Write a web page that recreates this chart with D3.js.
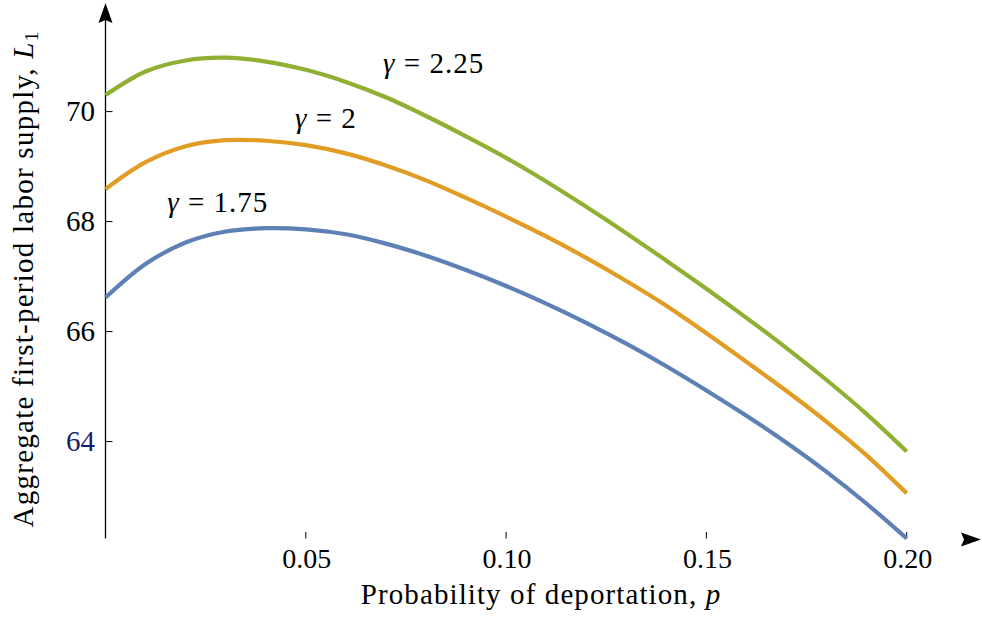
<!DOCTYPE html>
<html>
<head>
<meta charset="utf-8">
<script src="https://cdn.jsdelivr.net/npm/d3@7"></script>
<style>
  body { margin: 0; background: #fff; }
  svg { display: block; font-family: "Liberation Serif", "Times New Roman", serif; }
</style>
</head>
<body>
<div id="chart"></div>
<script>
// deportation probability p, sampled every 0.01
const pValues = d3.range(0, 21).map(i => i / 100);

// aggregate first-period labor supply L1
const gamma175 = [66.62,67.23,67.62,67.82,67.88,67.86,67.77,67.60,67.38,67.12,66.83,66.51,66.16,65.78,65.37,64.93,64.47,63.98,63.45,62.87,62.24];
const gamma200 = [68.59,69.08,69.37,69.48,69.47,69.39,69.24,69.02,68.75,68.43,68.09,67.73,67.34,66.92,66.47,65.97,65.45,64.92,64.36,63.75,63.06];
const gamma225 = [70.30,70.73,70.93,70.98,70.91,70.76,70.54,70.26,69.92,69.55,69.16,68.73,68.27,67.79,67.29,66.78,66.25,65.70,65.12,64.50,63.82];

const seriesNames = ["1.75", "2", "2.25"];
const seriesColors = ["#5e81b5", "#e19c24", "#8fb032"];

const xTicks = [0.05, 0.10, 0.15, 0.20];
const yTicks = [64, 66, 68, 70];

// label anchors in data units (p, L1)
const labelP = [0.0154, 0.0473, 0.0693];
const labelL = [68.17, 69.70, 70.70];

const width = 982, height = 625;

const svg = d3.select("#chart")
  .append("svg")
  .attr("width", width)
  .attr("height", height);

const x = d3.scaleLinear().domain([0, 0.2]).range([105.5, 906.7]);
const y = d3.scaleLinear().domain([64, 70]).range([441.6, 111.6]);

const originY = 538.5;
const axisColor = "#000";

// y axis line + arrow
svg.append("line")
  .attr("x1", x(0)).attr("x2", x(0))
  .attr("y1", 20).attr("y2", originY)
  .attr("stroke", axisColor)
  .attr("stroke-width", 1.3);

svg.append("path")
  .attr("d", `M${x(0)},3 L${x(0) + 7},23 L${x(0)},20 L${x(0) - 7},23 Z`)
  .attr("fill", axisColor);

// x axis arrow (no base line in the original)
svg.append("path")
  .attr("d", `M981,539.5 L961,532.5 L964,539.5 L961,546.5 Z`)
  .attr("fill", axisColor);

// y ticks and labels
const yAxis = svg.append("g").attr("class", "axis y-axis");
yAxis.selectAll("line")
  .data(yTicks)
  .join("line")
  .attr("x1", x(0)).attr("x2", x(0) + 7)
  .attr("y1", d => y(d)).attr("y2", d => y(d))
  .attr("stroke", axisColor)
  .attr("stroke-width", 1);

yAxis.selectAll("text")
  .data(yTicks)
  .join("text")
  .attr("x", 95)
  .attr("y", d => y(d))
  .attr("dy", "0.34em")
  .attr("text-anchor", "end")
  .attr("font-size", 29)
  .attr("fill", d => d === 64 ? "#1a1a6e" : "#000")
  .text(d => d);

// x ticks and labels
const xAxis = svg.append("g").attr("class", "axis x-axis");
xAxis.selectAll("line")
  .data(xTicks)
  .join("line")
  .attr("x1", d => x(d)).attr("x2", d => x(d))
  .attr("y1", originY - 6.5).attr("y2", originY)
  .attr("stroke", axisColor)
  .attr("stroke-width", 1);

xAxis.selectAll("text")
  .data(xTicks)
  .join("text")
  .attr("x", d => x(d) + 1)
  .attr("y", 568)
  .attr("text-anchor", "middle")
  .attr("font-size", 28)
  .attr("fill", "#000")
  .text(d => d.toFixed(2));

// axis titles
svg.append("text")
  .attr("x", 541)
  .attr("y", 604)
  .attr("text-anchor", "middle")
  .attr("font-size", 29)
  .attr("letter-spacing", 1.1)
  .html('Probability of deportation, <tspan font-style="italic">p</tspan>');

svg.append("text")
  .attr("transform", "translate(33,279) rotate(-90)")
  .attr("text-anchor", "middle")
  .attr("font-size", 29)
  .attr("letter-spacing", 1.25)
  .html('Aggregate first-period labor supply, <tspan font-style="italic">L</tspan><tspan font-size="19" dy="5">1</tspan>');

// curves
const series = [gamma175, gamma200, gamma225].map((vals, i) => ({
  name: seriesNames[i],
  color: seriesColors[i],
  values: vals.map((v, j) => ({ p: pValues[j], L: v }))
}));

const line = d3.line()
  .x(d => x(d.p))
  .y(d => y(d.L))
  .curve(d3.curveCatmullRom.alpha(0.5));

svg.append("g")
  .attr("class", "curves")
  .selectAll("path")
  .data(series)
  .join("path")
  .attr("d", d => line(d.values))
  .attr("fill", "none")
  .attr("stroke", d => d.color)
  .attr("stroke-width", 4.2);

// gamma labels
svg.append("g")
  .attr("class", "labels")
  .selectAll("text")
  .data(series)
  .join("text")
  .attr("x", (d, i) => x(labelP[i]))
  .attr("y", (d, i) => y(labelL[i]))
  .attr("font-size", 29)
  .attr("letter-spacing", 1)
  .html(d => `<tspan font-style="italic">γ</tspan> = ${d.name}`);
</script>
</body>
</html>
